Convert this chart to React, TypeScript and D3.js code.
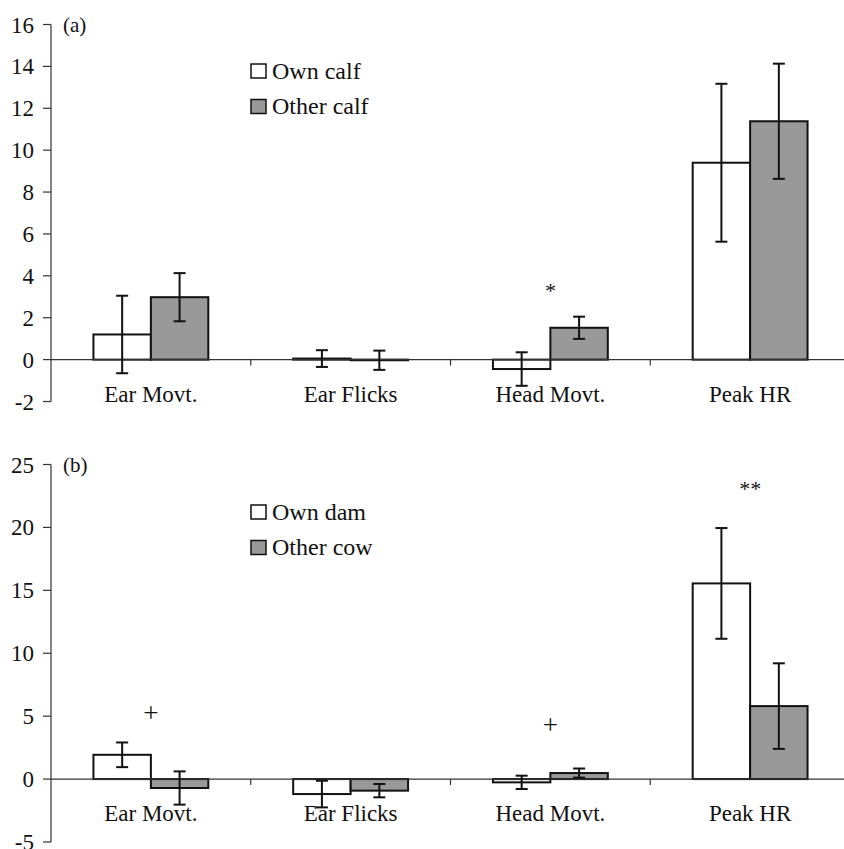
import { scaleLinear, scaleBand } from "d3";

const categories = ["Ear Movt.", "Ear Flicks", "Head Movt.", "Peak HR"];

// panel (a): calves
const seriesA = ["Own calf", "Other calf"];
const ownCalfMean = [1.2, 0.05, -0.45, 9.4];
const ownCalfSE = [1.85, 0.4, 0.8, 3.77];
const otherCalfMean = [2.98, -0.03, 1.52, 11.38];
const otherCalfSE = [1.15, 0.46, 0.53, 2.75];
const ticksA = [-2, 0, 2, 4, 6, 8, 10, 12, 14, 16];
const marksA = [{ cat: "Head Movt.", y: 3.3, text: "*" }];

// panel (b): dams
const seriesB = ["Own dam", "Other cow"];
const ownDamMean = [1.93, -1.19, -0.26, 15.55];
const ownDamSE = [0.98, 1.06, 0.53, 4.4];
const otherCowMean = [-0.71, -0.92, 0.48, 5.8];
const otherCowSE = [1.32, 0.53, 0.36, 3.4];
const ticksB = [-5, 0, 5, 10, 15, 20, 25];
const marksB = [
  { cat: "Ear Movt.", y: 5.3, text: "+" },
  { cat: "Head Movt.", y: 4.3, text: "+" },
  { cat: "Peak HR", y: 23.1, text: "**" },
];

const fills = ["#ffffff", "#999999"];
const font = "'Liberation Serif', 'Times New Roman', serif";
const W = 844;
const H = 849;
const left = 51;

type Panel = {
  label: string;
  series: string[];
  means: number[][];
  ses: number[][];
  ticks: number[];
  marks: { cat: string; y: number; text: string }[];
  domain: [number, number];
  range: [number, number];
  legendY: number;
};

const panels: Panel[] = [
  {
    label: "(a)",
    series: seriesA,
    means: [ownCalfMean, otherCalfMean],
    ses: [ownCalfSE, otherCalfSE],
    ticks: ticksA,
    marks: marksA,
    domain: [-2, 16],
    range: [401.5, 24.5],
    legendY: 64,
  },
  {
    label: "(b)",
    series: seriesB,
    means: [ownDamMean, otherCowMean],
    ses: [ownDamSE, otherCowSE],
    ticks: ticksB,
    marks: marksB,
    domain: [-5, 25],
    range: [842, 464.5],
    legendY: 505,
  },
];

const xScale = scaleBand<string>().domain(categories).range([left, 850]).padding(0);

const ChartPanel = ({ p }: { p: Panel }) => {
  const y = scaleLinear().domain(p.domain).range(p.range);
  const xSub = scaleBand<string>()
    .domain(p.series)
    .range([0, xScale.bandwidth()])
    .paddingInner(0)
    .paddingOuter(0.739);
  const y0 = y(0);
  const [top, bottom] = [y(p.domain[1]), y(p.domain[0])];
  const cap = 6;
  return (
    <g>
      {/* y axis */}
      <line x1={left} x2={left} y1={top} y2={bottom} stroke="#333" strokeWidth={1.2} />
      {p.ticks.map((t) => (
        <g key={t}>
          <line x1={left - 8} x2={left} y1={y(t)} y2={y(t)} stroke="#333" strokeWidth={1.2} />
          <text
            x={34}
            y={y(t)}
            dy="0.35em"
            textAnchor="end"
            fontSize={23}
            fontFamily={font}
            fill="#111"
          >
            {t}
          </text>
        </g>
      ))}
      {/* bars */}
      {p.series.map((s, si) =>
        categories.map((c, ci) => {
          const v = p.means[si][ci];
          const x0 = (xScale(c) ?? 0) + (xSub(s) ?? 0);
          const bw = xSub.bandwidth();
          return (
            <rect
              key={s + c}
              x={x0}
              y={Math.min(y(v), y0)}
              width={bw}
              height={Math.abs(y(v) - y0)}
              fill={fills[si]}
              stroke="#111"
              strokeWidth={2}
            />
          );
        })
      )}
      {/* x axis */}
      <line x1={left} x2={W} y1={y0} y2={y0} stroke="#333" strokeWidth={1.2} />
      {categories.slice(1).map((c) => (
        <line
          key={c}
          x1={xScale(c)}
          x2={xScale(c)}
          y1={y0}
          y2={y0 + 6}
          stroke="#333"
          strokeWidth={1.2}
        />
      ))}
      {/* error bars */}
      {p.series.map((s, si) =>
        categories.map((c, ci) => {
          const v = p.means[si][ci];
          const e = p.ses[si][ci];
          const cx = (xScale(c) ?? 0) + (xSub(s) ?? 0) + xSub.bandwidth() / 2;
          return (
            <g key={"e" + s + c} stroke="#111" strokeWidth={2}>
              <line x1={cx} x2={cx} y1={y(v + e)} y2={y(v - e)} />
              <line x1={cx - cap} x2={cx + cap} y1={y(v + e)} y2={y(v + e)} />
              <line x1={cx - cap} x2={cx + cap} y1={y(v - e)} y2={y(v - e)} />
            </g>
          );
        })
      )}
      {/* category labels */}
      {categories.map((c) => (
        <text
          key={c}
          x={(xScale(c) ?? 0) + xScale.bandwidth() / 2}
          y={y0 + 42}
          textAnchor="middle"
          fontSize={23}
          fontFamily={font}
          fill="#111"
        >
          {c}
        </text>
      ))}
      {/* significance marks */}
      {p.marks.map((m) => (
        <text
          key={m.cat + m.text}
          x={(xScale(m.cat) ?? 0) + xScale.bandwidth() / 2}
          y={y(m.y)}
          dy="0.35em"
          textAnchor="middle"
          fontSize={m.text === "+" ? 27 : 22}
          fontFamily={font}
          fill="#111"
        >
          {m.text}
        </text>
      ))}
      {/* panel label */}
      <text x={63} y={top + 7} fontSize={21} fontFamily={font} fill="#111">
        {p.label}
      </text>
      {/* legend */}
      {p.series.map((s, si) => (
        <g key={"l" + s} transform={`translate(251, ${p.legendY + si * 35.5})`}>
          <rect x={0} y={0} width={15} height={14} fill={fills[si]} stroke="#111" strokeWidth={1.5} />
          <text x={21} y={14.5} fontSize={24} fontFamily={font} fill="#111">
            {s}
          </text>
        </g>
      ))}
    </g>
  );
};

export default function App() {
  return (
    <svg
      width={W}
      height={H}
      style={{ position: "absolute", left: 0, top: 0, background: "#fff" }}
    >
      <rect width={W} height={H} fill="#fff" />
      {panels.map((p) => (
        <ChartPanel key={p.label} p={p} />
      ))}
    </svg>
  );
}
